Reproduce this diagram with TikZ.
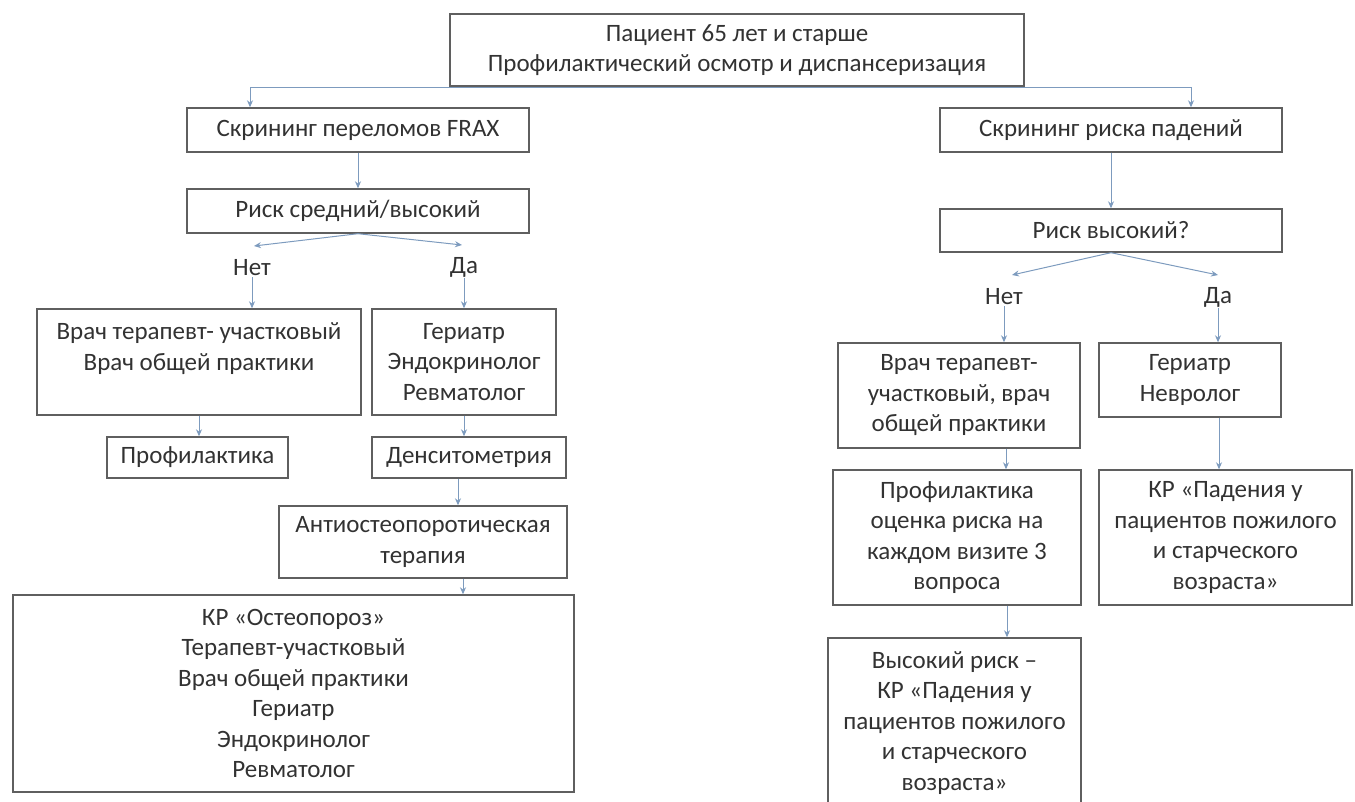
\documentclass[tikz,border=0pt]{standalone}
\usepackage{fontspec}
\setmainfont{Carlito}
\usepackage{xcolor}
\usetikzlibrary{calc, arrows.meta}

\definecolor{boxgray}{RGB}{95,95,95}
\definecolor{txtgray}{RGB}{50,50,50}
\definecolor{linkblue}{RGB}{125,155,190}

\tikzset{
  box/.style={draw=boxgray, line width=1.4pt, text=txtgray, align=center, inner sep=0pt,
    font=\fontsize{25}{30.5}\selectfont},
  lbl/.style={text=txtgray, inner sep=1pt, font=\fontsize{25}{30.5}\selectfont},
  conn/.style={draw=linkblue, line width=1pt},
  arr/.style={conn, -{Stealth[length=7pt,width=6pt]}},
}

\begin{document}
\begin{tikzpicture}[x=1pt,y=1pt,yscale=-1,xscale=1]
      \useasboundingbox (0,0) rectangle (1355,801);
      \clip (0,0) rectangle (1355,801);
      % boxes
      \node [box, minimum width=574pt, minimum height=72pt] (top) at (737,50) {Пациент 65 лет и старше\\Профилактический осмотр и диспансеризация};
      \node [box, minimum width=342pt, minimum height=44pt] (frax) at (358,130) {Скрининг переломов FRAX};
      \node [box, minimum width=342pt, minimum height=44pt] (fall) at (1111,130) {Скрининг риска падений};
      \node [box, minimum width=342pt, minimum height=44pt] (riskL) at (358,211) {Риск средний/высокий};
      \node [box, minimum width=342pt, minimum height=43pt] (riskR) at (1111,230.5) {Риск высокий?};
      \node [box, minimum width=324pt, minimum height=106pt] (docL) at (199,362) {Врач терапевт- участковый\\Врач общей практики\\~};
      \node [box, minimum width=184pt, minimum height=106pt] (geriL) at (464,362) {Гериатр\\Эндокринолог\\Ревматолог};
      \node [box, minimum width=181pt, minimum height=41pt] (profL) at (197.5,457.5) {Профилактика};
      \node [box, minimum width=194pt, minimum height=41pt] (dens) at (469,457.5) {Денситометрия};
      \node [box, minimum width=288pt, minimum height=72pt] (anti) at (423,542) {Антиостеопоротическая\\терапия};
      \node [box, minimum width=561pt, minimum height=197pt] (krOst) at (293.5,693.5) {КР «Остеопороз»\\Терапевт-участковый\\Врач общей практики\\Гериатр\\Эндокринолог\\Ревматолог};
      \node [box, minimum width=242pt, minimum height=105pt] (docR) at (959,395.5) {Врач терапевт-\\участковый, врач\\общей практики};
      \node [box, minimum width=182pt, minimum height=74pt] (geriR) at (1190,380) {Гериатр\\Невролог};
      \node [box, minimum width=248pt, minimum height=135pt] (profR) at (957,537.5) {Профилактика\\оценка риска на\\каждом визите 3\\вопроса};
      \node [box, minimum width=253pt, minimum height=135pt] (krFall) at (1225.5,537.5) {КР «Падения у\\пациентов пожилого\\и старческого\\возраста»};
      \node [box, minimum width=253pt, minimum height=170pt] (highR) at (954.5,723) {Высокий риск –\\КР «Падения у\\пациентов пожилого\\и старческого\\возраста»};
      % labels
      \node [lbl] (netL) at (252,268) {Нет};
      \node [lbl] (daL) at (464,267) {Да};
      \node [lbl] (netR) at (1004,297) {Нет};
      \node [lbl] (daR) at (1218,297) {Да};
      \coordinate (jL) at (250,87);
      \coordinate (jR) at (1191,87);
      \coordinate (tipNL) at (254,246);
      \coordinate (tipDL) at (462,245);
      \coordinate (tipNR) at (1012,275);
      \coordinate (tipDR) at (1218,275);
      \coordinate (densOut) at ($(dens.south)+(-11,0)$);
      \coordinate (antiOut) at ($(anti.south)+(40,0)$);
      \coordinate (docROut) at ($(docR.south)+(47,0)$);
      \coordinate (geriROut) at ($(geriR.south)+(29,0)$);
      \coordinate (profROut) at ($(profR.south)+(50,0)$);
      % connectors
      \draw [conn] (jL) -- (jR);
      \draw [arr] (jL) -- (jL |- frax.north);
      \draw [arr] (jR) -- (jR |- fall.north);
      \draw [arr] (frax.south) -- (riskL.north);
      \draw [arr] (fall.south) -- (riskR.north);
      \draw [arr] (riskL.south) -- (tipNL);
      \draw [arr] (riskL.south) -- (tipDL);
      \draw [arr] (riskR.south) -- (tipNR);
      \draw [arr] (riskR.south) -- (tipDR);
      \draw [arr] (netL.south) -- (netL.south |- docL.north);
      \draw [arr] (daL.south) -- (daL.south |- geriL.north);
      \draw [arr] (netR.south) -- (netR.south |- docR.north);
      \draw [arr] (daR.south) -- (daR.south |- geriR.north);
      \draw [arr] (docL.south) -- (docL.south |- profL.north);
      \draw [arr] (geriL.south) -- (geriL.south |- dens.north);
      \draw [arr] (densOut) -- (densOut |- anti.north);
      \draw [arr] (antiOut) -- (antiOut |- krOst.north);
      \draw [arr] (docROut) -- (docROut |- profR.north);
      \draw [arr] (geriROut) -- (geriROut |- krFall.north);
      \draw [arr] (profROut) -- (profROut |- highR.north);
\end{tikzpicture}
\end{document}
